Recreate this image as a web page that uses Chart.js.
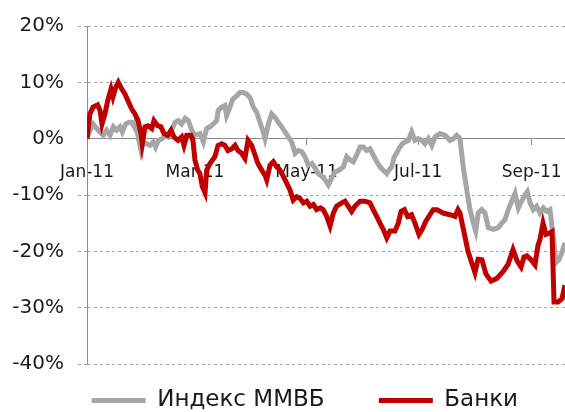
<!DOCTYPE html>
<html>
<head>
<meta charset="utf-8">
<script src="https://cdn.jsdelivr.net/npm/chart.js@4.4.1/dist/chart.umd.min.js"></script>
<style>
  html, body { margin: 0; padding: 0; background: #fff; }
  #wrap { width: 565px; height: 412px; position: relative; }
</style>
</head>
<body>
<div id="wrap"><canvas id="chart"></canvas></div>
<script>
// Дни с 1 января 2011
const tickDays = [0, 59, 120, 181, 243];
const tickLabels = ['Jan-11', 'Mar-11', 'May-11', 'Jul-11', 'Sep-11'];

const micexDays = [
  0, 1.6, 3.4, 5.3, 7.1, 8.9, 10.8, 12.6, 14.4, 16.2,
  18, 19.3, 21.1, 23, 24.4, 25.8, 26.6, 28, 29.5, 30.8,
  32.6, 34.4, 36.2, 37.5, 39, 41.1, 42.6, 44.4, 46.3, 48.1,
  49.9, 51.7, 53.6, 55.4, 57.2, 59, 61.7, 63.6, 65.4, 67.2,
  69, 70.9, 71.7, 73.6, 75.4, 76.3, 77.8, 79.6, 81.8, 83.6,
  85.4, 87.3, 89.1, 90.9, 92.7, 94.5, 96.3, 97.3, 99.1, 100.9,
  102.7, 104.5, 106.4, 108.2, 110, 111.9, 113.7, 115.5, 117.3, 119.1,
  120.9, 122.8, 124.6, 126.4, 127.9, 130.1, 131.9, 133.7, 135.5, 137.7,
  140.1, 141.9, 143.7, 145.5, 147.4, 149.2, 151, 152.8, 154.6, 156.4,
  158.3, 160.1, 161.9, 163.8, 165, 166.5, 167.9, 169.2, 171, 172.3,
  173.8, 175.6, 177.4, 179.2, 181, 182.9, 184.7, 186.5, 188.4, 190.2,
  192.9, 195.6, 198.4, 200.2, 202, 203.8, 205.6, 207.5, 209.3, 211.1,
  212.4, 213.8, 215.7, 217.5, 219.3, 222, 224.8, 226.6, 228.4, 230.2,
  232.1, 233.9, 235.7, 237.5, 239.3, 240.6, 242.1, 243.9, 245.7, 247.5,
  249.3, 251.2, 253, 254.5, 256.3, 258.1, 259.5, 261.2
];
const micexValues = [
  0, 1.5, 2.6, 1.8, 1.2, 0.6, 1.5, 0.6, 2.1, 1.5,
  2.1, 1.2, 2.6, 2.9, 2.9, 2.1, 2.9, 0.3, -2.1, -0.6,
  -0.9, -1.2, -0.6, -1.5, -0.3, 0, 0.6, 0.3, 1.5, 2.9,
  3.2, 2.6, 3.6, 3.2, 1.5, 0.6, 0.9, -0.6, 1.8, 2.1,
  2.6, 3.2, 5.0, 5.6, 5.9, 4.1, 5.3, 7.0, 7.6, 8.2,
  8.2, 7.9, 7.3, 5.6, 4.7, 2.9, 1.2, 0, 2.6, 4.4,
  3.8, 2.9, 2.1, 1.2, 0.3, -0.6, -2.6, -2.1, -2.3, -3.2,
  -4.7, -4.4, -5.2, -6.2, -6.5, -7.3, -8.2, -7.0, -5.9, -5.6,
  -5.0, -3.2, -3.8, -4.1, -2.9, -1.5, -1.5, -2.1, -1.8, -2.9,
  -4.1, -5.0, -5.6, -6.2, -5.6, -5.0, -3.2, -2.6, -1.5, -0.9,
  -0.6, -0.3, 1.2, -0.3, 0, -0.3, -0.9, 0, -1.2, 0.3,
  0.9, 0.6, -0.3, 0, 0.6, 0, -5.0, -9.1, -12.6, -15.0,
  -16.4, -13.2, -12.6, -13.2, -15.8, -16.1, -15.8, -15.0, -14.4, -12.6,
  -11.1, -9.7, -12.3, -11.1, -10.0, -9.4, -11.4, -12.6, -12.0, -13.2,
  -12.3, -12.9, -12.6, -16.7, -22.0, -21.4, -20.2, -18.5
];

const bankDays = [
  0, 1.6, 3.3, 5.8, 7.1, 8.2, 9.8, 11.5, 13.1, 14.2,
  15.7, 17.1, 19, 20.8, 22.4, 24.4, 26.2, 27.9, 29.5, 30.2,
  31.7, 33.3, 35.4, 36.6, 38.6, 40.4, 42.1, 44.1, 45.9, 47.5,
  49.7, 51.7, 53, 54.5, 56.8, 57.9, 59, 60.5, 61.7, 63,
  64.5, 65.4, 67.2, 69.9, 71.6, 73.6, 75.4, 77, 79.1, 80.9,
  82.5, 84.5, 86.3, 88, 90, 91.8, 93.4, 95.5, 97.3, 98.2,
  100, 101.8, 103.7, 105.5, 107.3, 109.1, 110.9, 112.7, 114.6, 116.4,
  118.2, 120.1, 121.9, 123.7, 125.5, 127.5, 129, 131, 132.8, 134.6,
  136.4, 139.2, 141, 142.8, 144.6, 146.4, 149.2, 151.9, 154.6, 156.4,
  158.3, 160.1, 161.9, 163.8, 165.6, 168.3, 170.1, 171.6, 173.4, 175.2,
  177.4, 179.2, 181.4, 183.2, 185.1, 187.4, 189.2, 191.3, 194.5, 198.4,
  201.1, 202.7, 203.8, 205.5, 208.2, 210.4, 212, 213.7, 215.8, 218,
  220.8, 224, 227.3, 230.1, 232.8, 235, 237.2, 238.8, 240.4, 242.6,
  244.8, 246.4, 247.5, 249.2, 250.8, 252.5, 254.1, 255.2, 257.4, 259.6,
  261.2
];
const bankValues = [
  0, 4.4, 5.6, 6.0, 5.0, 2.6, 4.4, 7.0, 8.8, 7.4,
  9.1, 10.0, 8.8, 7.9, 6.7, 5.3, 4.4, 3.2, 0.9, -0.9,
  2.1, 2.3, 1.8, 3.2, 2.3, 2.1, 0.9, 0.6, 1.5, 0.3,
  -0.3, 0.3, -1.2, 0.6, 0.6, -0.3, -3.8, -5.6, -6.2, -8.5,
  -9.6, -5.6, -4.4, -3.2, -1.2, -0.9, -1.2, -2.1, -1.8, -1.2,
  -2.1, -2.6, -3.5, -0.3, -1.2, -2.9, -4.4, -5.6, -6.5, -7.3,
  -4.7, -4.1, -5.0, -5.6, -6.7, -7.9, -9.1, -10.9, -10.3, -10.6,
  -11.4, -11.1, -12.0, -11.7, -12.6, -12.3, -12.6, -13.8, -15.5, -13.2,
  -12.0, -11.4, -11.1, -12.0, -12.9, -12.0, -11.1, -11.1, -11.4, -12.6,
  -13.8, -15.0, -16.1, -17.6, -16.4, -16.4, -15.0, -12.9, -12.6, -13.8,
  -13.5, -15.0, -17.0, -16.1, -14.7, -13.5, -12.6, -12.6, -13.2, -13.5,
  -13.8, -12.6, -13.2, -15.8, -20.0, -22.2, -23.8, -21.4, -21.5, -24.0,
  -25.3, -24.8, -23.6, -22.3, -19.7, -21.7, -22.8, -21.0, -20.8, -21.5,
  -22.4, -19.0, -17.9, -15.0, -17.0, -16.8, -16.5, -29.0, -29.0, -28.4,
  -26.0
];

function toPoints(days, values) {
  return days.map((d, i) => ({ x: d, y: values[i] }));
}

const font = "'DejaVu Sans', sans-serif";
const nbsp = '\u00a0';

new Chart(document.getElementById('chart'), {
  type: 'line',
  data: {
    datasets: [
      {
        label: 'Индекс ММВБ',
        data: toPoints(micexDays, micexValues),
        borderColor: '#a6a6a6',
        backgroundColor: '#a6a6a6',
        borderWidth: 5,
        pointRadius: 0,
        tension: 0,
        order: 2
      },
      {
        label: 'Банки',
        data: toPoints(bankDays, bankValues),
        borderColor: '#c00000',
        backgroundColor: '#c00000',
        borderWidth: 5,
        pointRadius: 0,
        tension: 0,
        order: 1
      }
    ]
  },
  options: {
    responsive: true,
    maintainAspectRatio: false,
    animation: false,
    layout: { padding: { top: 19, right: 0, bottom: -10, left: 0 } },
    plugins: {
      tooltip: { enabled: false },
      legend: {
        position: 'bottom',
        align: 'end',
        labels: {
          color: '#1a1a1a',
          font: { family: font, size: 23 },
          boxWidth: 54,
          boxHeight: 5,
          padding: 25,
          sort: (a, b) => a.datasetIndex - b.datasetIndex,
          generateLabels: function (chart) {
            const items = Chart.defaults.plugins.legend.labels.generateLabels(chart);
            items.forEach(item => {
              item.lineWidth = 0;
              item.fillStyle = item.strokeStyle;
            });
            // промежутки между элементами легенды
            items[0].text += nbsp.repeat(3);
            items[1].text += nbsp.repeat(4);
            return items;
          }
        }
      }
    },
    scales: {
      x: {
        type: 'linear',
        min: 0,
        max: 261.2,
        position: { y: 0 },
        afterBuildTicks: function (axis) {
          axis.ticks = tickDays.map(v => ({ value: v }));
        },
        afterFit: function (axis) {
          axis.paddingLeft = 0;
          axis.paddingRight = 0;
        },
        ticks: {
          autoSkip: false,
          maxRotation: 0,
          padding: 18,
          color: '#1a1a1a',
          font: { family: font, size: 17 },
          callback: function (value) {
            return tickLabels[tickDays.indexOf(value)];
          }
        },
        grid: {
          drawOnChartArea: false,
          drawTicks: true,
          tickLength: 6,
          color: '#8c8c8c'
        },
        border: { color: '#8c8c8c', width: 1 }
      },
      y: {
        min: -40,
        max: 20,
        afterFit: function (scale) {
          scale.width = 87;
        },
        ticks: {
          stepSize: 10,
          padding: 14,
          color: '#1a1a1a',
          font: { family: font, size: 20 },
          callback: function (value) {
            return value + '%';
          }
        },
        grid: {
          color: ctx => (ctx.tick && ctx.tick.value === 0) ? 'rgba(0,0,0,0)' : '#a6a6a6',
          tickLength: 9,
          tickBorderDash: [3, 3],
          tickColor: ctx => (ctx.tick && ctx.tick.value === 0) ? 'rgba(0,0,0,0)' : '#a6a6a6'
        },
        border: { color: '#8c8c8c', width: 1, dash: [3, 3] }
      }
    }
  }
});
</script>
</body>
</html>
